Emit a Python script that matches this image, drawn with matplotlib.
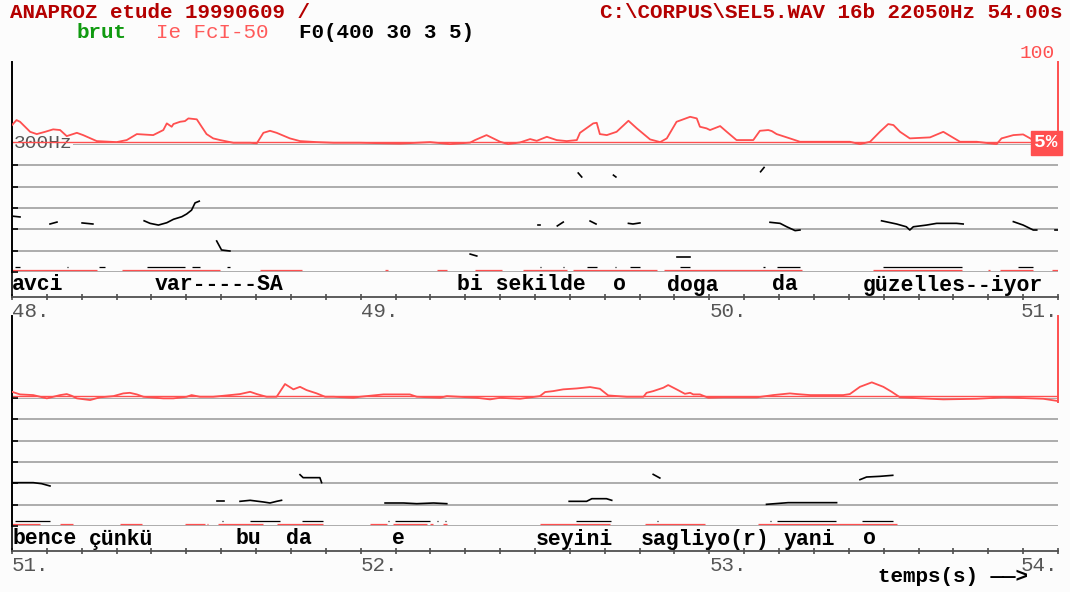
import matplotlib
matplotlib.use("Agg")
import matplotlib.pyplot as plt
import numpy as np

W, H = 1070, 592

# ---- data ----------------------------------------------------------------
# intensity curve (percent), top line 48-51 s
top_int_t = [48.000, 48.013, 48.023, 48.052, 48.071, 48.095, 48.118, 48.138, 48.157, 48.186,
             48.204, 48.243, 48.300, 48.329, 48.358, 48.405, 48.434, 48.444, 48.458, 48.463,
             48.482, 48.496, 48.506, 48.530, 48.544, 48.558, 48.577, 48.597, 48.635, 48.683,
             48.702, 48.721, 48.740, 48.759, 48.797, 48.826, 48.874, 48.922, 48.998, 49.113,
             49.199, 49.256, 49.314, 49.328, 49.361, 49.400, 49.423, 49.457, 49.486, 49.505,
             49.534, 49.562, 49.591, 49.620, 49.629, 49.667, 49.677, 49.686, 49.706, 49.734,
             49.768, 49.792, 49.830, 49.859, 49.878, 49.906, 49.945, 49.964, 49.973, 49.992,
             50.002, 50.031, 50.050, 50.078, 50.126, 50.145, 50.169, 50.179, 50.193, 50.231,
             50.260, 50.403, 50.432, 50.461, 50.489, 50.513, 50.528, 50.547, 50.575, 50.633,
             50.671, 50.719, 50.767, 50.805, 50.824, 50.838, 50.872, 50.900, 50.929, 50.939]
top_int_v = [25.2, 31.1, 29.1, 17.2, 14.5, 17.2, 20.1, 19.3, 12.1, 16.0,
             13.3, 6.2, 5.0, 7.4, 14.5, 13.3, 19.3, 27.2, 23.2, 26.4,
             29.1, 29.9, 33.1, 32.0, 23.2, 14.5, 9.4, 7.4, 4.2, 4.2,
             3.5, 16.0, 18.4, 16.0, 9.4, 6.2, 5.0, 4.2, 4.2, 3.2,
             5.0, 2.6, 4.4, 7.4, 13.3, 5.4, 2.6, 4.6, 8.6, 6.5,
             11.3, 7.4, 6.2, 7.4, 16.0, 27.2, 27.9, 14.5, 13.3, 17.2,
             30.3, 21.3, 8.2, 5.0, 9.4, 29.1, 35.0, 33.1, 23.2, 21.3,
             19.3, 24.0, 17.2, 7.4, 7.4, 18.4, 19.3, 18.1, 14.5, 9.4,
             5.4, 5.4, 2.6, 5.4, 17.2, 26.4, 25.2, 17.2, 9.4, 10.6,
             17.2, 5.4, 5.4, 3.5, 2.6, 9.4, 13.3, 14.1, 7.4, 5.4]

# intensity curve (percent), bottom line 51-54 s
bot_int_t = [51.000, 51.023, 51.061, 51.100, 51.138, 51.157, 51.171, 51.186, 51.224, 51.252,
             51.291, 51.319, 51.338, 51.358, 51.377, 51.434, 51.463, 51.501, 51.515, 51.539,
             51.577, 51.616, 51.654, 51.683, 51.702, 51.730, 51.759, 51.783, 51.807, 51.826,
             51.845, 51.874, 51.898, 51.922, 51.979, 51.998, 52.065, 52.141, 52.161, 52.228,
             52.247, 52.333, 52.371, 52.400, 52.457, 52.514, 52.529, 52.552, 52.581, 52.620,
             52.658, 52.686, 52.710, 52.763, 52.811, 52.820, 52.839, 52.868, 52.882, 52.906,
             52.930, 52.945, 52.954, 52.973, 52.997, 53.040, 53.136, 53.183, 53.231, 53.251,
             53.289, 53.384, 53.403, 53.432, 53.466, 53.499, 53.523, 53.547, 53.595, 53.671,
             53.767, 53.843, 53.958, 53.996]
bot_int_v = [10.1, 7.0, 6.2, 2.3, 6.2, 7.4, 5.4, 2.3, 0.3, 3.5,
             5.0, 8.2, 8.9, 7.0, 4.2, 2.3, 2.3, 4.2, 6.2, 4.2,
             4.2, 5.8, 7.4, 10.1, 7.4, 4.2, 4.2, 19.3, 13.0, 16.0,
             12.1, 8.2, 4.2, 4.2, 3.0, 4.2, 7.0, 7.0, 4.2, 3.0,
             5.0, 3.0, 1.1, 3.0, 1.8, 5.0, 9.8, 10.9, 13.0, 14.1,
             15.7, 13.7, 5.8, 4.2, 4.2, 8.9, 10.9, 14.9, 18.1, 13.0,
             7.7, 8.9, 7.0, 7.0, 3.0, 3.5, 3.5, 6.2, 8.2, 7.4,
             6.2, 6.2, 7.4, 16.0, 21.3, 16.0, 10.1, 3.5, 2.6, 1.1,
             1.8, 3.5, 1.8, -0.6]

# F0 fragments (Hz)
top_f0_t = [[48.000, 48.023], [48.109, 48.129], [48.201, 48.232],
            [48.379, 48.396, 48.420, 48.444, 48.463, 48.487, 48.501, 48.515, 48.525, 48.537],
            [48.587, 48.601, 48.625], [49.624, 49.634], [49.725, 49.732], [49.509, 49.513],
            [49.564, 49.581], [49.658, 49.675], [49.768, 49.781, 49.801], [49.314, 49.333],
            [49.906, 49.945], [50.147, 50.157], [50.174, 50.203, 50.222, 50.246, 50.260],
            [50.494, 50.537, 50.565, 50.575, 50.585, 50.623, 50.652, 50.681, 50.709, 50.728],
            [50.872, 50.900, 50.929, 50.939], [50.991, 51.000]]
top_f0_hz = [[131, 129], [112.5, 117], [115, 112.5],
             [120, 114, 110, 115.5, 123.5, 129.6, 136, 145, 162, 166],
             [72.7, 51.6, 49.2], [232, 222.7], [227, 222.7], [110, 110],
             [108, 117], [119.5, 112.5], [114, 112.5, 115], [42, 37.5],
             [35, 35], [235, 245], [116.5, 114, 106, 97, 98.4],
             [120, 112.5, 106, 98.4, 106, 110, 114, 114, 114, 112.5],
             [118, 110, 98.4, 98.4], [98.4, 98.4]]
bot_f0_t = [[51.000, 51.061, 51.085, 51.109], [51.587, 51.608],
            [51.654, 51.683, 51.721, 51.740, 51.759, 51.773],
            [51.826, 51.835, 51.883, 51.888],
            [52.070, 52.123, 52.161, 52.209, 52.247], [52.839, 52.858],
            [52.598, 52.648, 52.663, 52.705, 52.720],
            [53.432, 53.451, 53.489, 53.526], [53.164, 53.226, 53.365]]
bot_f0_hz = [[101.6, 101.6, 99.2, 93.8], [57.8, 57.8],
             [57.8, 60.2, 56.3, 53.9, 57.8, 60.2],
             [120.3, 113.3, 113.3, 101.6],
             [53.9, 53.9, 52.3, 53.9, 52.3], [121, 112.5],
             [57.8, 57.8, 64, 64, 60.2],
             [108.6, 114.8, 116.4, 118.8], [50.8, 54.7, 54.7]]

# voicing marks (red) and bottom candidate marks (black): start, end in s
top_voice_start = [48.000, 48.315, 48.711, 49.070, 49.219, 49.328, 49.466, 49.609, 49.870, 50.469, 50.799, 50.834, 50.983]
top_voice_end = [48.244, 48.597, 48.832, 49.078, 49.248, 49.405, 49.592, 49.850, 50.266, 50.725, 50.805, 50.928, 51.000]
top_mark_start = [48.009, 48.158, 48.250, 48.387, 48.516, 48.617, 49.514, 49.580, 49.649, 49.729, 49.772, 49.916, 50.154, 50.194, 50.498, 50.885]
top_mark_end = [48.023, 48.161, 48.267, 48.496, 48.539, 48.625, 49.517, 49.583, 49.678, 49.732, 49.801, 49.945, 50.160, 50.260, 50.725, 50.928]
bot_voice_start = [51.000, 51.138, 51.310, 51.496, 51.559, 51.591, 51.760, 52.027, 52.093, 52.199, 52.236, 52.514, 52.815, 53.140]
bot_voice_end = [51.080, 51.175, 51.373, 51.554, 51.562, 51.720, 51.892, 52.076, 52.190, 52.207, 52.248, 52.715, 52.988, 53.538]
bot_mark_start = [51.009, 51.602, 51.683, 51.832, 52.078, 52.098, 52.219, 52.242, 52.618, 52.850, 53.174, 53.194, 53.438]
bot_mark_end = [51.109, 51.605, 51.769, 51.892, 52.081, 52.199, 52.222, 52.245, 52.718, 52.853, 53.177, 53.363, 53.527]

# transcription
top_words = ["avci", "var-----SA", "bi sekilde", "o", "doga", "da", "güzelles--iyor"]
top_word_t = [48.000, 48.410, 49.276, 49.724, 49.879, 50.180, 50.441]
bot_words = ["bence", "çünkü", "bu", "da", "e", "seyini", "sagliyo(r)", "yani", "o"]
bot_word_t = [51.000, 51.221, 51.640, 51.786, 52.090, 52.503, 52.804, 53.214, 53.441]

f0_grid = [0, 50, 100, 150, 200, 250, 300]

# ---- drawing -------------------------------------------------------------
MONO = ["Liberation Mono", "DejaVu Sans Mono"]
RED = "#ff4f4f"
DARKRED = "#b40000"
GRAY = "#a6a6a6"
TXTGRAY = "#555555"
BG = "#fcfcfc"


def px_rect(x0, y0, x1, y1):
    return [x0 / W, 1 - y1 / H, (x1 - x0) / W, (y1 - y0) / H]


fig = plt.figure(figsize=(W / 100, H / 100), dpi=100, facecolor=BG)


def panel(dy, t0, int_t, int_v, f0_t, f0_hz, v_s, v_e, m_s, m_e, words, word_t, first):
    t1 = t0 + 3
    # F0 area
    ax_f0 = fig.add_axes(px_rect(12, 144 + dy, 1058, 272 + dy))
    ax_f0.set_facecolor("none")
    ax_f0.set_xlim(t0, t1)
    ax_f0.set_ylim(0, 300)
    for g in f0_grid:
        ax_f0.axhline(g, color=GRAY, lw=1.3, zorder=1)
    for s in ["top", "right", "bottom"]:
        ax_f0.spines[s].set_visible(False)
    ax_f0.spines["left"].set_color("black")
    ax_f0.spines["left"].set_linewidth(1.4)
    ax_f0.set_xticks([])
    ax_f0.set_yticks(f0_grid)
    ax_f0.set_yticklabels([])
    ax_f0.tick_params(axis="y", direction="in", length=4, width=1.2, color="black")
    for ts, fs in zip(f0_t, f0_hz):
        ax_f0.plot(ts, fs, color="black", lw=1.2, zorder=3)
    ax_f0.hlines([4.5] * len(v_s), v_s, v_e, color=RED, lw=0.9, zorder=2)
    ax_f0.hlines([11] * len(m_s), m_s, m_e, color="black", lw=0.9, zorder=3)
    if first:
        ax_f0.text(t0 + 0.005, 301, "300Hz", family=MONO, fontsize=14, color=TXTGRAY,
                   va="center", ha="left", zorder=4,
                   bbox=dict(boxstyle="square,pad=0.02", fc=BG, ec="none"))

    # intensity area
    ax_int = fig.add_axes(px_rect(12, 62 + dy, 1058, 148 + dy))
    ax_int.set_facecolor("none")
    ax_int.set_xlim(t0, t1)
    ax_int.set_ylim(-2, 100)
    for s in ["top", "bottom"]:
        ax_int.spines[s].set_visible(False)
    ax_int.spines["left"].set_color("black")
    ax_int.spines["left"].set_linewidth(1.4)
    ax_int.spines["right"].set_color(RED)
    ax_int.spines["right"].set_linewidth(1.4)
    ax_int.set_xticks([])
    ax_int.set_yticks([])
    ax_int.axhline(5, color=RED, lw=1.0, zorder=2)
    ax_int.plot(int_t, int_v, color=RED, lw=1.3, zorder=3)
    if first:
        ax_int.text(t1 - 0.01, 100, "100", family=MONO, fontsize=14, color=RED,
                    ha="right", va="bottom")
        ax_int.text(t1, 4, "5%", family=MONO, fontsize=14, fontweight="bold",
                    color="white", ha="right", va="center", zorder=5,
                    bbox=dict(boxstyle="square,pad=0.2", fc=RED, ec=RED))

    # transcription + time axis
    ax_t = fig.add_axes(px_rect(12, 272 + dy, 1058, 297 + dy))
    ax_t.set_facecolor("none")
    ax_t.set_xlim(t0, t1)
    ax_t.set_ylim(0, 1)
    for s in ["top", "right"]:
        ax_t.spines[s].set_visible(False)
    ax_t.spines["bottom"].set_color("#505050")
    ax_t.spines["bottom"].set_linewidth(1.3)
    ax_t.spines["left"].set_color("black")
    ax_t.spines["left"].set_linewidth(1.2)
    ax_t.set_yticks([])
    majors = np.arange(t0, t1 + 0.5)
    ax_t.set_xticks(majors)
    ax_t.set_xticklabels(["%d." % m for m in majors])
    ax_t.set_xticks(np.arange(t0, t1 + 0.05, 0.1), minor=True)
    ax_t.tick_params(axis="x", which="both", direction="inout", length=5, width=1.1,
                     color="#404040", pad=1, labelsize=15, labelcolor=TXTGRAY)
    labs = ax_t.get_xticklabels()
    for i, lab in enumerate(labs):
        lab.set_family(MONO)
        lab.set_ha("right" if i == len(labs) - 1 else "left")
    for w, t in zip(words, word_t):
        ax_t.text(t, 0.48, w, family=MONO, fontsize=15.5, fontweight="bold",
                  color="black", ha="left", va="center")
    return ax_t


panel(0, 48, top_int_t, top_int_v, top_f0_t, top_f0_hz,
      top_voice_start, top_voice_end, top_mark_start, top_mark_end,
      top_words, top_word_t, True)
panel(254, 51, bot_int_t, bot_int_v, bot_f0_t, bot_f0_hz,
      bot_voice_start, bot_voice_end, bot_mark_start, bot_mark_end,
      bot_words, bot_word_t, False)

# header
hdr = dict(family=MONO, fontsize=15, fontweight="bold", va="center")
fig.text(10 / W, 1 - 12 / H, "ANAPROZ etude 19990609 /", color=DARKRED, ha="left", **hdr)
fig.text(1062 / W, 1 - 12 / H, "C:\\CORPUS\\SEL5.WAV 16b 22050Hz 54.00s",
         color=DARKRED, ha="right", **hdr)
fig.text(76 / W, 1 - 32 / H, "brut", color="#109a10", ha="left", **hdr)
fig.text(156 / W, 1 - 32 / H, "Ie FcI-50", color="#ff5a5a", ha="left",
         **dict(hdr, fontweight="normal"))
fig.text(299 / W, 1 - 32 / H, "F0(400 30 3 5)", color="black", ha="left", **hdr)
fig.text(878 / W, 1 - 577 / H, "temps(s) \u2014\u2014>", color="black", ha="left", **hdr)

fig.savefig("out.png", dpi=100, facecolor=BG)
